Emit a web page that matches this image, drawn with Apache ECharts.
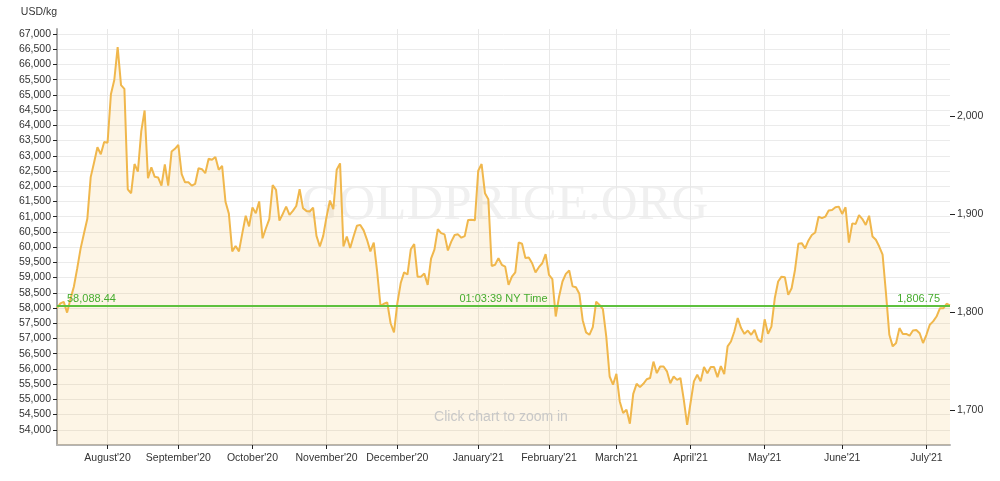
<!DOCTYPE html>
<html><head><meta charset="utf-8">
<script src="https://cdn.jsdelivr.net/npm/echarts@6/dist/echarts.min.js"></script>
<style>html,body{margin:0;padding:0;background:#fff}#c{width:1000px;height:481px}</style>
</head><body><div id="c"></div>
<script>
// Gold price, USD per kg, one point per trading day
const prices = [
58000, 58150, 58200, 57850, 58300, 58700, 59300, 59950, 60450, 60930,
62300, 62780, 63280, 63050, 63450, 63430, 65020, 65490, 66570, 65320,
65200, 61900, 61770, 62730, 62480, 63800, 64490, 62260, 62620, 62310,
62290, 62020, 62720, 62020, 63140, 63230, 63360, 62400, 62130, 62130,
62020, 62080, 62590, 62560, 62430, 62900, 62870, 62960, 62540, 62670,
61490, 61100, 59860, 60040, 59860, 60460, 61030, 60680, 61300, 61110,
61500, 60290, 60620, 60920, 62040, 61880, 60870, 61090, 61330, 61060,
61190, 61350, 61900, 61280, 61190, 61170, 61300, 60370, 60020, 60370,
61000, 61530, 61250, 62540, 62750, 60020, 60350, 59970, 60350, 60700,
60730, 60550, 60240, 59860, 60150, 59200, 58070, 58140, 58180, 57500,
57200, 58160, 58820, 59170, 59100, 59930, 60100, 59030, 59030, 59130,
58760, 59620, 59920, 60590, 60460, 60420, 59890, 60180, 60400, 60420,
60310, 60360, 60890, 60900, 60880, 62510, 62730, 61770, 61570, 59380,
59420, 59640, 59420, 59360, 58760, 59030, 59170, 60150, 60110, 59640,
59660, 59470, 59170, 59340, 59470, 59770, 59090, 58950, 57720, 58380,
58870, 59120, 59230, 58710, 58680, 58470, 57600, 57200, 57120, 57370,
58210, 58100, 57960, 57060, 55750, 55480, 55840, 54930, 54550, 54660,
54200, 55180, 55510, 55400, 55510, 55660, 55700, 56240, 55860, 56080,
56080, 55920, 55530, 55750, 55640, 55700, 54990, 54160, 54880, 55590,
55810, 55590, 56060, 55860, 56060, 56060, 55730, 56090, 55830, 56740,
56900, 57230, 57670, 57340, 57150, 57260, 57120, 57280, 56960, 56880,
57630, 57150, 57390, 58320, 58870, 59030, 59010, 58430, 58650, 59250,
60110, 60130, 59960, 60220, 60400, 60480, 61000, 60950, 61000, 61200,
61220, 61310, 61330, 61090, 61310, 60150, 60780, 60760, 61050, 60920,
60730, 61030, 60350, 60240, 60020, 59750, 58490, 57120, 56740, 56850,
57340, 57150, 57150, 57090, 57260, 57280, 57170, 56850, 57120, 57450,
57560, 57720, 57990, 57990, 58140, 58088.44
];
const monthLabels = ["August'20","September'20","October'20","November'20","December'20","January'21","February'21","March'21","April'21","May'21","June'21","July'21"];
const monthIndex  = [15, 36, 58, 80, 101, 125, 146, 166, 188, 210, 233, 258];
const leftTicks = [54000,54500,55000,55500,56000,56500,57000,57500,58000,58500,59000,59500,60000,60500,61000,61500,62000,62500,63000,63500,64000,64500,65000,65500,66000,66500,67000];
const rightTicks = [1700, 1800, 1900, 2000];
const currentPriceLabel = '58,088.44';
const currentOzLabel = '1,806.75';
const timeLabel = '01:03:39 NY Time';
const currentPrice = 58088.44;

const OZ_PER_KG = 32.1507466;
const yMin = 53500, yMax = 67165;
const FONT = "'Liberation Sans', Arial, sans-serif";
const GREEN_LINE = '#5cc03c';
const GREEN_TEXT = '#46ad2e';

const categories = prices.map((_, i) => String(i));
const labelMap = {};
monthIndex.forEach((idx, k) => { labelMap[idx] = monthLabels[k]; });
const isMonth = (i) => labelMap[i] !== undefined;
const fmt = (v) => Math.round(v).toLocaleString('en-US');
const markLineStyle = {color: GREEN_LINE, width: 1.5, type: 'solid', opacity: 1};

const chart = echarts.init(document.getElementById('c'), null, {renderer: 'canvas'});
chart.setOption({
  animation: false,
  backgroundColor: '#ffffff',
  textStyle: {fontFamily: FONT},
  grid: {left: 57, right: 50, top: 29, bottom: 36, containLabel: false},
  xAxis: {
    type: 'category', data: categories, boundaryGap: false,
    axisLine: {show: true, lineStyle: {color: '#b4b4b4', width: 2}},
    axisTick: {show: true, interval: (i) => isMonth(i), length: 4, lineStyle: {color: '#222'}},
    axisLabel: {interval: (i) => isMonth(i), formatter: (v, i) => labelMap[i] || '', color: '#333', fontSize: 10.5, fontFamily: FONT, margin: 8},
    splitLine: {show: true, interval: (i) => isMonth(i), lineStyle: {color: '#e8e8e8', width: 1}}
  },
  yAxis: [{
    type: 'value', position: 'left', min: yMin, max: yMax, interval: 500,
    name: 'USD/kg', nameLocation: 'end', nameGap: 11,
    nameTextStyle: {align: 'right', color: '#333', fontSize: 10.5, fontFamily: FONT},
    axisLine: {show: true, lineStyle: {color: '#a8a8a8', width: 2}},
    axisTick: {show: true, customValues: leftTicks, length: 4, lineStyle: {color: '#222'}},
    axisLabel: {customValues: leftTicks, formatter: fmt, color: '#333', fontSize: 10.5, fontFamily: FONT, margin: 6},
    splitLine: {show: true, lineStyle: {color: '#ebebeb', width: 1}}
  }, {
    type: 'value', position: 'right', min: yMin / OZ_PER_KG, max: yMax / OZ_PER_KG,
    axisLine: {show: false},
    axisTick: {show: true, customValues: rightTicks, length: 5, lineStyle: {color: '#222'}},
    axisLabel: {customValues: rightTicks, formatter: fmt, color: '#333', fontSize: 10.5, fontFamily: FONT, margin: 7},
    splitLine: {show: false}
  }],
  graphic: [
    {type: 'text', x: 505, y: 206, z: 0, silent: true,
     style: {text: 'GOLDPRICE.ORG', font: "51px 'Liberation Serif', serif", fill: '#f0f0f0', align: 'center', verticalAlign: 'middle'}},
    {type: 'text', x: 501, y: 417, z: 100, silent: true,
     style: {text: 'Click chart to zoom in', font: "14px 'Liberation Sans', Arial, sans-serif", fill: '#c8c8c8', align: 'center', verticalAlign: 'middle'}}
  ],
  series: [{
    type: 'line', yAxisIndex: 0, data: prices, showSymbol: false, symbol: 'none',
    lineStyle: {color: '#f0b74c', width: 2},
    itemStyle: {color: '#f0b74c'},
    areaStyle: {color: 'rgba(240,183,76,0.2)'},
    z: 3,
    markLine: {
      symbol: ['none', 'none'], silent: true, animation: false,
      lineStyle: markLineStyle,
      label: {color: GREEN_TEXT, fontSize: 11, fontFamily: FONT, distance: [10, 1]},
      data: [
        {yAxis: currentPrice, label: {position: 'insideStartTop', formatter: currentPriceLabel}},
        {yAxis: currentPrice, label: {position: 'insideMiddleTop', formatter: timeLabel}},
        {yAxis: currentPrice, label: {position: 'insideEndTop', formatter: currentOzLabel}}
      ]
    }
  }]
});
</script>
</body></html>
